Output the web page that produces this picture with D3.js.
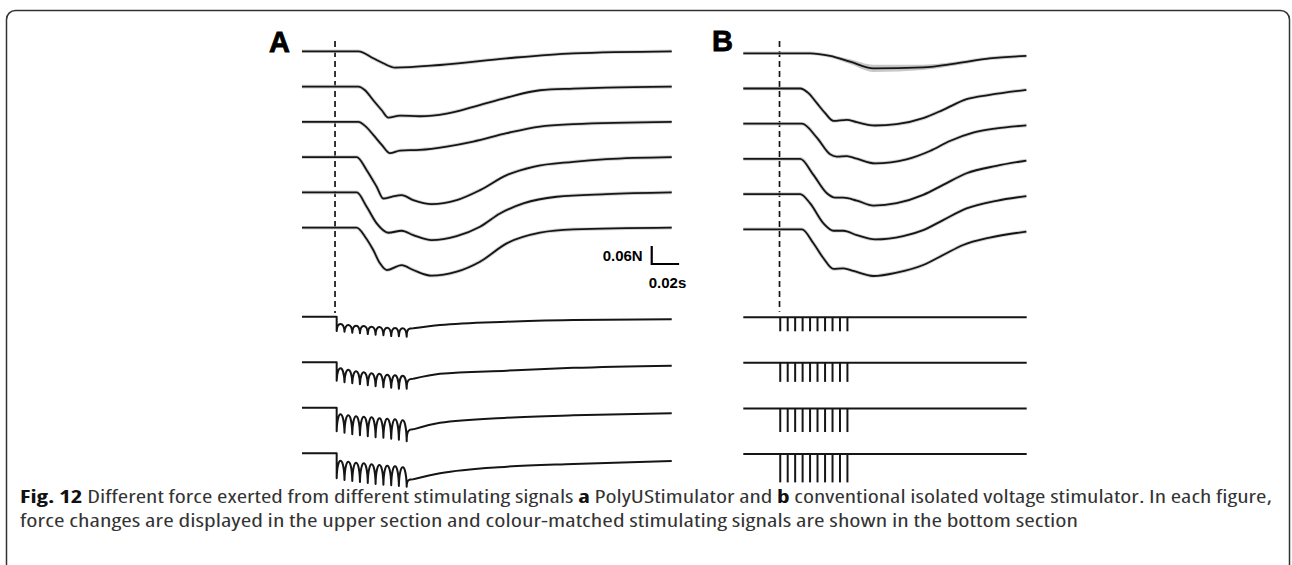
<!DOCTYPE html>
<html>
<head>
<meta charset="utf-8">
<script src="https://cdn.jsdelivr.net/npm/d3@7"></script>
<style>
  body { margin: 0; background: #fff; }
  svg { display: block; }
</style>
</head>
<body>
<svg id="chart"></svg>
<script>
const WIDTH = 1292;
const HEIGHT = 565;

// force traces: [time ms, force change mN], one list per trace (top to bottom)
const forceA = [
  [[0,0],[41.1,0],[52.0,-23.3],[59.3,-40],[67.9,-54.4],[100.7,-45.6],[149.4,-23.3],[198,-6.7],[269.8,0]],
  [[0,0],[41.1,0],[46.0,-12.2],[52.0,-45.6],[58.2,-78.9],[63.0,-103.3],[71.5,-96.7],[86.1,-98.9],[105.6,-90],[125.0,-67.8],[149.4,-36.7],[173.7,-12.2],[198,-6.7],[222.3,-3.3],[269.8,0]],
  [[0,0],[41.1,0],[46.0,-13.3],[52.0,-43.3],[58.2,-76.7],[64.2,-104.4],[71.5,-95.6],[86.1,-93.3],[105.6,-82.2],[125.0,-65.6],[149.4,-37.8],[173.7,-15.6],[198,-7.8],[269.8,0]],
  [[0,0],[39.9,0],[47.2,-43.3],[54.5,-98.9],[59.3,-137.8],[65.4,-132.2],[72.7,-126.7],[81.2,-143.3],[94.6,-156.7],[112.9,-143.3],[129.9,-110],[149.4,-60],[168.8,-32.2],[198,-15.6],[222.3,-6.7],[269.8,0]],
  [[0,0],[39.9,0],[47.2,-47.8],[54.5,-103.3],[63.0,-134.4],[72.7,-127.8],[81.2,-142.2],[94.6,-158.9],[112.9,-145.6],[129.9,-114.4],[144.5,-70],[161.5,-36.7],[185.8,-14.4],[222.3,-5.6],[269.8,0]],
  [[0,0],[39.9,0],[46.0,-30],[52.0,-74.4],[56.9,-118.9],[61.8,-141.1],[72.7,-125],[81.2,-141.1],[94.6,-160],[112.9,-146.7],[129.9,-113.3],[149.4,-52.2],[173.7,-16.7],[198,-5.6],[269.8,0]]
];

const forceB = [
  [[0,0],[63.7,0],[82.7,-8.9],[101.7,-27.8],[123.9,-50],[171.4,-46.7],[203.2,-33.3],[234.8,-16.7],[269.7,-8.9]],
  [[0,0],[54.2,0],[62.1,-15.6],[70.1,-48.9],[78.0,-82.2],[85.9,-107.8],[98.6,-104.4],[108.1,-112.2],[125.5,-123.3],[146.1,-118.9],[171.4,-98.9],[190.4,-71.1],[212.7,-35.6],[234.8,-21.1],[269.7,-4.4]],
  [[0,0],[55.8,0],[70.1,-46.7],[82.7,-102.2],[89.1,-110],[98.6,-107.8],[108.1,-116.7],[125.5,-132.2],[155.6,-118.9],[177.8,-91.1],[196.8,-57.8],[218.9,-30],[241.2,-15.6],[269.7,-5.6]],
  [[0,0],[54.2,0],[66.8,-53.3],[79.6,-114.4],[87.5,-128.9],[95.4,-128.9],[108.1,-138.9],[123.9,-155.6],[146.1,-147.8],[171.4,-120],[190.4,-86.7],[212.7,-47.8],[241.2,-23.3],[269.7,-5.6]],
  [[0,0],[54.2,0],[63.7,-31.1],[76.4,-97.8],[85.9,-122.2],[95.4,-122.2],[108.1,-136.7],[125.5,-151.1],[152.4,-140],[171.4,-120],[190.4,-86.7],[212.7,-47.8],[241.2,-22.2],[269.7,-6.7]],
  [[0,0],[55.8,0],[66.8,-46.7],[76.4,-96.7],[85.9,-132.2],[95.4,-130],[104.9,-138.9],[123.9,-155.6],[146.1,-144.4],[171.4,-118.9],[190.4,-85.6],[209.5,-52.2],[234.8,-27.8],[269.7,-7.8]]
];

// spread of the first B trace (same times as forceB[0])
const bandB1Upper = [0, 0, -5.6, -20, -38, -38, -28.5, -13.3, -7.5];
const bandB1Lower = [0, 0, -12.2, -35.6, -62, -55.6, -40, -20, -10.3];

// stimulating signals A (V): cusp levels, arch tops between cusps, recovery tail
const pulseTimesA = [25.3, 31.0, 36.7, 42.3, 48.0, 53.7, 59.4, 65.1, 70.7, 76.4];
const cuspA = [
  [-7.2, -7.5, -8, -8.3, -8.7, -9, -9.3, -9.7, -9.8, -10],
  [-9.2, -10, -10.5, -11, -11.5, -12, -12.5, -12.8, -13.2, -13.3],
  [-11.7, -12.5, -13.2, -13.7, -14.2, -14.7, -15, -15.5, -16, -16.7],
  [-12.5, -13.3, -13.8, -14.3, -14.8, -15.3, -15.7, -16, -16.3, -16.7]
];
const archA = [
  [-3.7, -4.2, -4.5, -4.7, -5, -5.2, -5.5, -5.7, -5.8],
  [-3, -3.8, -4.5, -5, -5.5, -5.8, -6.2, -6.5, -6.7],
  [-3.3, -3.8, -4.2, -4.5, -4.8, -5.2, -5.5, -5.8, -6.2],
  [-3.7, -4.2, -4.7, -5, -5.5, -5.8, -6.2, -6.5, -7]
];
const recoveryTimesA = [81.2, 100.7, 149.4, 198, 269.8];
const recoveryA = [
  [-5.8, -4.2, -2.5, -1.7, -1.3],
  [-8.3, -5.8, -4.2, -2.8, -1.7],
  [-10.8, -7.5, -5, -3.8, -2.8],
  [-13, -10, -6.7, -5.3, -3.8]
];

// stimulating signals B: square pulses
const pulseTimesB = [35.2, 42.3, 49.4, 56.5, 63.6, 70.7, 77.9, 85.0, 92.1, 99.2];
const pulseAmpB = [-7, -9.5, -11.8, -14.2];

const dashTimes = [24.1, 34.5];
const panelLabels = ["A", "B"];
const scaleBarForce = -60;   // mN
const scaleBarTime = 20;     // ms
const scaleBarLabels = ["0.06N", "0.02s"];

const captionLine1 = [
  { text: "Fig. 12", bold: true },
  { text: " Different force exerted from different stimulating signals ", bold: false },
  { text: "a", bold: true },
  { text: " PolyUStimulator and ", bold: false },
  { text: "b", bold: true },
  { text: " conventional isolated voltage stimulator. In each figure,", bold: false }
];
const captionLine2 = "force changes are displayed in the upper section and colour-matched stimulating signals are shown in the bottom section";

// layout
const panels = [
  { force: forceA, x: [302, 672], rows: [51.3, 227.7], stimRows: [316.7, 453.3], label: [269, 52], dash: [41, 313] },
  { force: forceB, x: [743.3, 1026.7], rows: [53.3, 229.3], stimRows: [317.3, 454], label: [712, 51], dash: [41, 311.7] }
];

const svg = d3.select("#chart").attr("width", WIDTH).attr("height", HEIGHT);

svg.append("rect")
  .attr("x", 6.5).attr("y", 10.5)
  .attr("width", 1283).attr("height", 620)
  .attr("rx", 9)
  .attr("fill", "none")
  .attr("stroke", "#333")
  .attr("stroke-width", 1.5);

const fy = d3.scaleLinear().domain([0, -60]).range([0, 18]);
const sy = d3.scaleLinear().domain([0, -10]).range([0, 20]);
const INK = "#151515";

panels.forEach((p, pi) => {
  const x = d3.scaleLinear().domain([0, 270]).range(p.x);
  const row = d3.scalePoint().domain(d3.range(6)).range(p.rows);
  const stimRow = d3.scalePoint().domain(d3.range(4)).range(p.stimRows);
  const g = svg.append("g");

  g.append("text")
    .attr("x", p.label[0]).attr("y", p.label[1])
    .attr("font-family", "Liberation Sans, Arial, sans-serif")
    .attr("font-weight", "bold")
    .attr("font-size", 29)
    .attr("fill", "#000")
    .attr("stroke", "#000")
    .attr("stroke-width", 0.8)
    .text(panelLabels[pi]);

  // stimulus onset marker
  g.append("line")
    .attr("x1", x(dashTimes[pi])).attr("x2", x(dashTimes[pi]))
    .attr("y1", p.dash[0]).attr("y2", p.dash[1])
    .attr("stroke", INK)
    .attr("stroke-width", 1.7)
    .attr("stroke-dasharray", "6,4");

  if (pi === 1) {
    const band = d3.area()
      .x(d => x(d.t))
      .y0(d => row(0) + fy(d.lo))
      .y1(d => row(0) + fy(d.hi))
      .curve(d3.curveMonotoneX);
    g.append("path")
      .datum(forceB[0].map((d, k) => ({ t: d[0], lo: bandB1Lower[k], hi: bandB1Upper[k] })))
      .attr("d", band)
      .attr("fill", "#c8c8c8");
  }

  p.force.forEach((trace, i) => {
    const line = d3.line()
      .x(d => x(d[0]))
      .y(d => row(i) + fy(d[1]))
      .curve(d3.curveMonotoneX);
    g.append("path")
      .attr("d", line(trace))
      .attr("fill", "none")
      .attr("stroke", "#bdbdbd")
      .attr("stroke-width", 3.6)
      .attr("opacity", 0.7);
    g.append("path")
      .attr("d", line(trace))
      .attr("fill", "none")
      .attr("stroke", INK)
      .attr("stroke-width", 1.8);
  });

  // stimulating signals
  for (let i = 0; i < 4; i++) {
    const base = stimRow(i);
    const yv = v => base + sy(v);
    if (pi === 0) {
      const path = d3.path();
      path.moveTo(x(0), yv(0));
      path.lineTo(x(pulseTimesA[0]), yv(0));
      path.lineTo(x(pulseTimesA[0]), yv(cuspA[i][0]));
      for (let k = 1; k < pulseTimesA.length; k++) {
        const xa = x(pulseTimesA[k - 1]);
        const xb = x(pulseTimesA[k]);
        const ya = yv(cuspA[i][k - 1]);
        const yb = yv(cuspA[i][k]);
        const c = (yv(archA[i][k - 1]) - 0.125 * (ya + yb)) / 0.75;
        path.bezierCurveTo(xa + 0.6, c, xb - 0.6, c, xb, yb);
      }
      const xl = x(pulseTimesA[pulseTimesA.length - 1]);
      const xr = x(recoveryTimesA[0]);
      const yr = yv(recoveryA[i][0]);
      path.bezierCurveTo(xl, yr, xl + (xr - xl) * 0.4, yr, xr, yr);
      d3.line()
        .x(d => x(d[0]))
        .y(d => yv(d[1]))
        .curve(d3.curveMonotoneX)
        .context(path)(recoveryTimesA.map((t, k) => [t, recoveryA[i][k]]));
      g.append("path")
        .attr("d", path.toString())
        .attr("fill", "none")
        .attr("stroke", INK)
        .attr("stroke-width", 2)
        .attr("stroke-linejoin", "round");
    } else {
      g.append("line")
        .attr("x1", x(0)).attr("x2", x(270))
        .attr("y1", base).attr("y2", base)
        .attr("stroke", INK)
        .attr("stroke-width", 2);
      g.selectAll(null)
        .data(pulseTimesB)
        .enter()
        .append("line")
        .attr("x1", d => x(d)).attr("x2", d => x(d))
        .attr("y1", base).attr("y2", yv(pulseAmpB[i]))
        .attr("stroke", INK)
        .attr("stroke-width", 2);
    }
  }

  if (pi === 0) {
    // scale bar: vertical = 0.06 N, horizontal = 0.02 s
    const sbx = x(255.2);
    const sbBottom = 264;
    const barH = fy(scaleBarForce) - fy(0);
    const sb = g.append("g");
    sb.append("path")
      .attr("d", `M${sbx},${sbBottom - barH}V${sbBottom}H${x(255.2 + scaleBarTime)}`)
      .attr("fill", "none")
      .attr("stroke", "#000")
      .attr("stroke-width", 2.2);
    sb.append("text")
      .attr("x", sbx - 9).attr("y", 260.5)
      .attr("text-anchor", "end")
      .attr("font-family", "Liberation Sans, Arial, sans-serif")
      .attr("font-weight", "bold")
      .attr("font-size", 15)
      .attr("fill", "#000")
      .text(scaleBarLabels[0]);
    sb.append("text")
      .attr("x", sbx - 3).attr("y", 288)
      .attr("font-family", "Liberation Sans, Arial, sans-serif")
      .attr("font-weight", "bold")
      .attr("font-size", 15)
      .attr("fill", "#000")
      .text(scaleBarLabels[1]);
  }
});

// caption
const cap = svg.append("g")
  .attr("font-family", "'Open Sans', 'Noto Sans', sans-serif")
  .attr("font-stretch", "condensed")
  .attr("font-size", 18)
  .attr("fill", "#333");

const t1 = cap.append("text")
  .attr("x", 20).attr("y", 503)
  .attr("textLength", 1252)
  .attr("lengthAdjust", "spacingAndGlyphs");
t1.selectAll("tspan")
  .data(captionLine1)
  .enter()
  .append("tspan")
  .attr("font-weight", d => d.bold ? "bold" : "normal")
  .attr("fill", d => d.bold ? "#111" : "#333")
  .text(d => d.text);

cap.append("text")
  .attr("x", 20).attr("y", 527)
  .attr("textLength", 1058)
  .attr("lengthAdjust", "spacingAndGlyphs")
  .text(captionLine2);
</script>
</body>
</html>
